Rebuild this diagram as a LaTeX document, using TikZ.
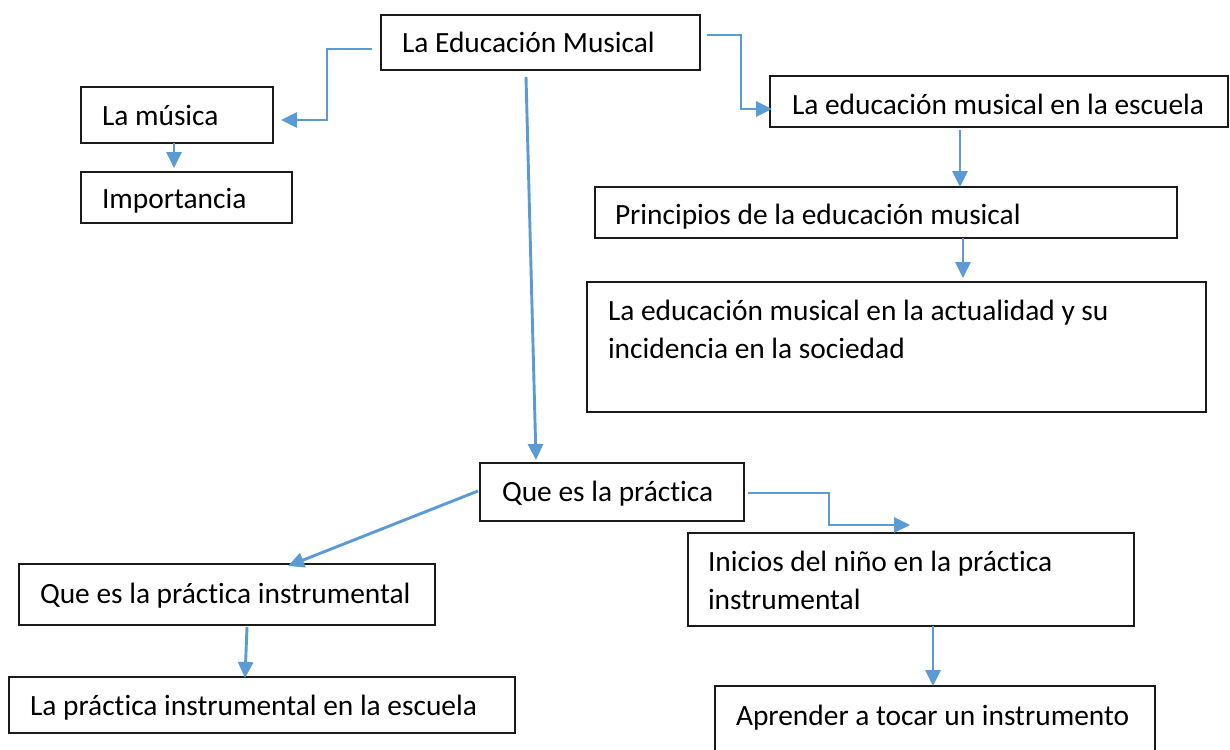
\documentclass[tikz,border=0pt]{standalone}
\usepackage{fontspec}
\setmainfont{Carlito}[Ligatures=NoCommon]
\usetikzlibrary{arrows.meta,calc}
\definecolor{arrowblue}{HTML}{5B9BD5}
\definecolor{boxline}{HTML}{1A1A1A}
\tikzset{
  box/.style={draw=boxline, line width=1.4pt, anchor=north west, outer sep=0pt, inner sep=0pt},
  lbl/.style={anchor=base west, inner sep=0pt, outer sep=0pt, font=\fontsize{29.4}{38}\selectfont},
  conn/.style={draw=arrowblue, line width=2.9pt,
    -{Triangle[length=16pt,width=15pt]}}
}
\newcommand{\twolines}[2]{\parbox[t]{600pt}{\fontsize{29.4}{38}\selectfont #1\\#2}}
\begin{document}
\begin{tikzpicture}[x=1pt,y=-1pt]
\useasboundingbox (0,0) rectangle (1230,749);
\fill[white] (0,0) rectangle (1230,749);

% boxes
\node[box, minimum width=319pt, minimum height=55pt] (edu) at (381,15) {};
\node[box, minimum width=192pt, minimum height=56pt] (musica) at (81,87) {};
\node[box, minimum width=211pt, minimum height=51pt] (imp) at (81,172) {};
\node[box, minimum width=458pt, minimum height=51pt] (escuela) at (770,76) {};
\node[box, minimum width=582pt, minimum height=51pt] (princ) at (595,187) {};
\node[box, minimum width=619pt, minimum height=130pt] (actual) at (587,282) {};
\node[box, minimum width=264pt, minimum height=58pt] (queprac) at (480,463) {};
\node[box, minimum width=416pt, minimum height=61pt] (queinst) at (19,564) {};
\node[box, minimum width=506pt, minimum height=56pt] (escinst) at (9,677) {};
\node[box, minimum width=446pt, minimum height=93pt] (inicios) at (688,533) {};
\node[box, minimum width=440pt, minimum height=72pt] (aprender) at (715,686) {};

% texts
\node[lbl] (eduT) at (402,53) {La Educación Musical};
\node[lbl] (musicaT) at (102,125) {La música};
\node[lbl] (impT) at (102,208) {Importancia};
\node[lbl] (escuelaT) at (792,114) {La educación musical en la escuela};
\node[lbl] (princT) at (615,224) {Principios de la educación musical};
\node[lbl] (actualT) at (608,320) {\twolines{La educación musical en la actualidad y su}{incidencia en la sociedad}};
\node[lbl] (quepracT) at (502,501) {Que es la práctica};
\node[lbl] (queinstT) at (40,603) {Que es la práctica instrumental};
\node[lbl] (escinstT) at (30,715) {La práctica instrumental en la escuela};
\node[lbl] (iniciosT) at (708,571) {\twolines{Inicios del niño en la práctica}{instrumental}};
\node[lbl] (aprenderT) at (736,725) {Aprender a tocar un instrumento};

% connectors
\draw[conn] ($(edu.north west)+(-9,34)$) -| ($(edu.north west)+(-54,105)$) -- ($(musica.north east)+(8,33)$);
\draw[conn] ($(edu.north east)+(7,20)$) -| ($(edu.north east)+(41,94)$) -- ($(escuela.north west)+(2,33)$);
\draw[conn] ($(musica.south west)+(93,0)$) -- ($(imp.north west)+(93,-4)$);
\draw[conn] ($(escuela.south west)+(190,3)$) -- ($(princ.north west)+(365,0)$);
\draw[conn] ($(princ.south west)+(368,0)$) -- ($(actual.north west)+(376,-4)$);
\draw[conn] ($(edu.south west)+(145,7)$) -- ($(queprac.north west)+(56,-3)$);
\draw[conn] ($(queprac.north west)+(-2,28)$) -- ($(queinst.north west)+(269,2)$);
\draw[conn] ($(queinst.south west)+(228,2)$) -- ($(escinst.north west)+(236,1)$);
\draw[conn] ($(queprac.north east)+(4,30)$) -| ($(queprac.north east)+(85,62)$) -- ($(inicios.north west)+(222,-8)$);
\draw[conn] ($(inicios.south west)+(245,0)$) -- ($(aprender.north west)+(218,0)$);
\end{tikzpicture}
\end{document}
